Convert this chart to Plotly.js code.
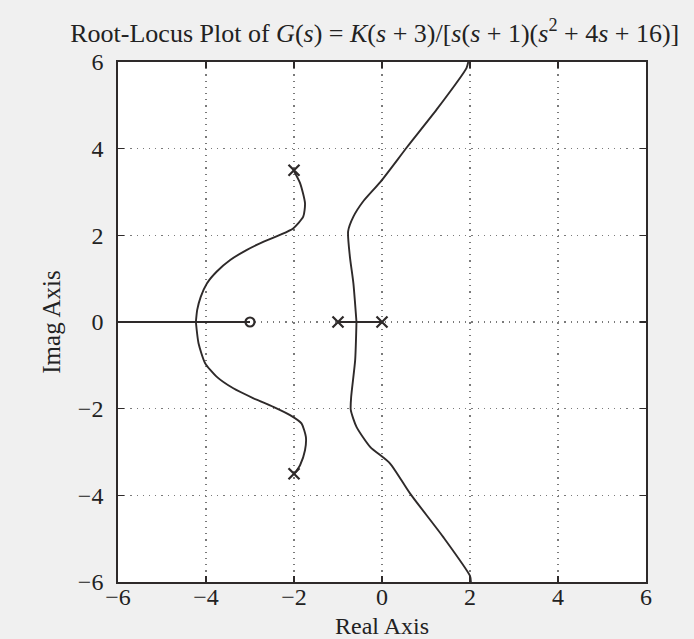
<!DOCTYPE html>
<html>
<head>
<meta charset="utf-8">
<script src="https://cdn.plot.ly/plotly-3.0.1.min.js"></script>
<style>
  html, body { margin: 0; padding: 0; background: #f0f0f0; }
  #plot { width: 694px; height: 639px; }
</style>
</head>
<body>
<div id="plot"></div>
<script>
// Open-loop poles and zero of G(s) = K(s+3)/[s(s+1)(s^2+4s+16)]
const poleRe = [0, -1, -2, -2];
const poleIm = [0, 0, 3.5, -3.5];
const zeroRe = [-3];
const zeroIm = [0];

// Branch leaving the upper complex pole, bending round to the real axis
const upperLeftRe = [-2.02, -1.86, -1.75, -1.79, -2.02, -2.32, -2.70, -3.08, -3.45, -3.76, -3.98, -4.12, -4.20, -4.23];
const upperLeftIm = [3.52, 3.20, 2.74, 2.43, 2.16, 2.01, 1.85, 1.66, 1.43, 1.16, 0.89, 0.58, 0.28, 0.0];

// Mirror branch from the lower complex pole
const lowerLeftRe = [-4.23, -4.17, -4.02, -3.76, -3.38, -2.92, -2.47, -2.09, -1.83, -1.73, -1.75, -1.86, -1.98];
const lowerLeftIm = [0.0, -0.49, -0.95, -1.26, -1.53, -1.76, -1.96, -2.15, -2.34, -2.65, -2.96, -3.30, -3.49];

// Branches breaking away between s = -1 and s = 0 toward the asymptotes
const upperRightRe = [-0.58, -0.65, -0.73, -0.77, -0.65, -0.43, -0.03, 0.58, 1.24, 1.92, 1.96];
const upperRightIm = [0.0, 0.89, 1.51, 2.09, 2.43, 2.78, 3.24, 4.05, 4.90, 5.86, 6.0];
const lowerRightRe = [-0.58, -0.61, -0.70, -0.71, -0.58, -0.27, 0.18, 0.64, 1.39, 2.0, 2.02];
const lowerRightIm = [0.0, -0.88, -1.72, -2.03, -2.42, -2.88, -3.26, -3.96, -4.96, -5.86, -6.0];

// Real-axis segments of the locus
const realSegLeftRe = [-6, -3];
const realSegRightRe = [-1, 0];
const realSegIm = [0, 0];

const tickVals = [-6, -4, -2, 0, 2, 4, 6];

const ink = '#2e2a2a';
const lineStyle = { color: ink, width: 1.9, shape: 'spline', smoothing: 0.6 };

const curve = (x, y) => ({ x, y, type: 'scatter', mode: 'lines', line: lineStyle, hoverinfo: 'skip' });

const data = [
  curve(upperLeftRe, upperLeftIm),
  curve(lowerLeftRe, lowerLeftIm),
  curve(upperRightRe, upperRightIm),
  curve(lowerRightRe, lowerRightIm),
  curve(realSegLeftRe, realSegIm),
  curve(realSegRightRe, realSegIm),
  {
    x: poleRe, y: poleIm, type: 'scatter', mode: 'markers',
    marker: { symbol: 'x-thin-open', size: 11, color: ink, line: { color: ink, width: 2.2 } }
  },
  {
    x: zeroRe, y: zeroIm, type: 'scatter', mode: 'markers',
    marker: { symbol: 'circle-open', size: 9, color: ink, line: { color: ink, width: 2.2 } }
  }
];

const serif = 'Liberation Serif, Times New Roman, serif';

const axisCommon = {
  range: [-6, 6],
  tickvals: tickVals,
  ticktext: tickVals.map(v => v < 0 ? '\u2212' + Math.abs(v) : String(v)),
  showgrid: true,
  gridcolor: '#7a7a7a',
  griddash: '1.2px,5px',
  gridwidth: 1.2,
  zeroline: false,
  showline: true,
  linecolor: ink,
  linewidth: 1.8,
  mirror: 'allticks',
  ticks: 'inside',
  ticklen: 6,
  tickwidth: 1.5,
  tickcolor: ink,
  tickfont: { family: serif, size: 24, color: '#222' },
  fixedrange: true
};

const layout = {
  width: 694,
  height: 639,
  paper_bgcolor: '#f0f0f0',
  plot_bgcolor: '#ffffff',
  showlegend: false,
  margin: { l: 118, r: 48, t: 62, b: 57 },
  title: {
    text: 'Root-Locus Plot of <i>G</i>(<i>s</i>) = <i>K</i>(<i>s</i> + 3)/[<i>s</i>(<i>s</i> + 1)(<i>s</i><sup>2</sup> + 4<i>s</i> + 16)]',
    font: { family: serif, size: 26, color: '#222' },
    x: 0.54, xanchor: 'center',
    y: 0.948, yanchor: 'middle'
  },
  xaxis: Object.assign({}, axisCommon, {
    title: { text: 'Real Axis', font: { family: serif, size: 24, color: '#222' }, standoff: 21 },
    ticklabelstandoff: -8
  }),
  yaxis: Object.assign({}, axisCommon, {
    title: { text: 'Imag Axis', font: { family: serif, size: 25, color: '#222' }, standoff: 10 },
    ticklabelstandoff: 8
  })
};

Plotly.newPlot('plot', data, layout, { displayModeBar: false, staticPlot: true });
</script>
</body>
</html>
